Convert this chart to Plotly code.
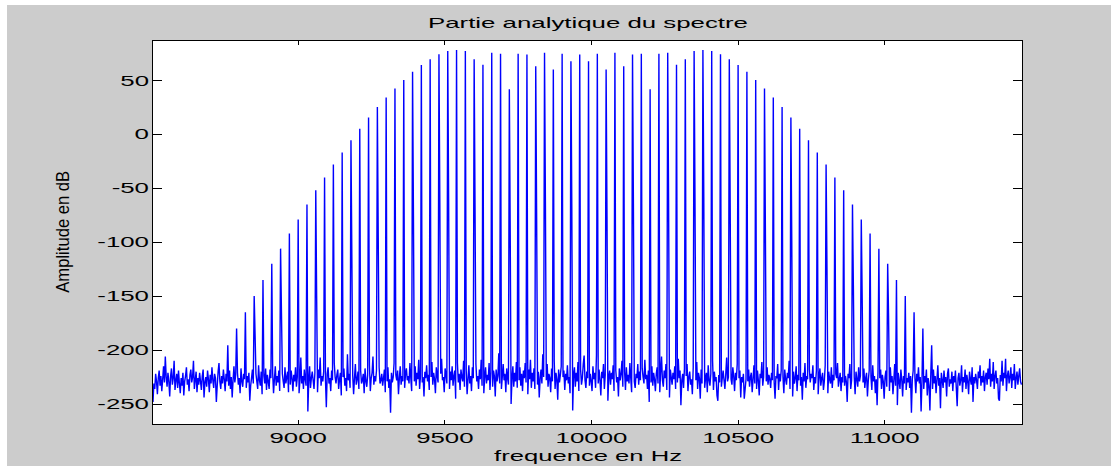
import json
import numpy as np
import plotly.graph_objects as go

# FFT grid of the analytic spectrum
start_hz = 8505.0
bin_hz = 3.0

# background noise floor, one value per FFT bin (dB)
noise_floor_db = [
    -248, -231, -236, -222, -229, -241, -226, -219, -233, -224, -238, -227, -215, -230, -206, -225, -234, -221, -229, -243, -224, -217, -232, -226, -210, -237,
    -228, -222, -235, -219, -231, -240, -226, -233, -221, -242, -229, -224, -216, -232, -227, -238, -223, -218, -230, -225, -210, -236, -228, -220, -239, -226,
    -232, -221, -229, -237, -224, -218, -244, -230, -225, -234, -219, -227, -239, -223, -231, -216, -228, -235, -222, -226, -248, -233, -220, -212, -229, -236,
    -224, -231, -218, -227, -238, -222, -229, -226, -233, -219, -236, -225, -244, -228, -215, -230, -223, -237, -221, -232, -226, -240, -217, -229, -234, -222,
    -227, -219, -235, -224, -230, -221, -247, -233, -226, -218, -231, -225, -239, -222, -229, -236, -214, -228, -233, -220, -241, -226, -224, -231, -217, -237,
    -223, -229, -236, -218, -226, -232, -221, -240, -227, -215, -233, -224, -230, -219, -238, -226, -257, -222, -229, -235, -216, -231, -225, -220, -239, -227,
    -232, -219, -226, -238, -223, -229, -216, -234, -225, -221, -240, -228, -207, -231, -224, -236, -218, -227, -233, -222, -257, -229, -215, -235, -226, -220,
    -228, -236, -221, -230, -225, -239, -218, -226, -207, -233, -224, -229, -220, -237, -227, -253, -222, -216, -231, -226, -238, -219, -228, -234, -212, -225,
    -231, -223, -218, -236, -227, -221, -242, -229, -225, -217, -233, -226, -238, -204, -228, -222, -235, -219, -230, -224, -241, -226, -213, -232, -227, -220,
    -236, -225, -219, -231, -228, -222, -240, -217, -229, -234, -223, -227, -214, -238, -226, -221, -206, -232, -224, -229, -219, -237, -225, -216, -231, -228,
    -222, -233, -226, -218, -239, -224, -229, -216, -235, -227, -258, -221, -230, -225, -212, -236, -223, -228, -219, -241, -226, -215, -232, -224, -229, -220,
    -235, -222, -217, -228, -224, -231, -212, -226, -238, -219, -223, -229, -215, -233, -221, -227, -209, -236, -224, -218, -230, -225, -243, -220, -226, -214,
    -229, -223, -237, -218, -225, -211, -232, -221, -227, -240, -216, -224, -230, -219, -234, -222, -208, -228, -225, -239, -217, -223, -231, -213, -226, -236,
    -220, -228, -215, -233, -224, -219, -245, -226, -212, -230, -222, -237, -218, -225, -229, -210, -234, -223, -219, -241, -227, -214, -231, -224, -238, -216,
    -226, -232, -220, -213, -229, -224, -236, -218, -227, -209, -233, -222, -240, -225, -216, -231, -223, -228, -212, -237, -221, -226, -234, -219, -224, -243,
    -218, -229, -224, -203, -231, -220, -236, -225, -213, -228, -222, -239, -217, -226, -232, -219, -224, -250, -227, -215, -234, -221, -229, -211, -235, -223,
    -228, -216, -233, -222, -238, -219, -226, -212, -230, -224, -241, -218, -227, -209, -235, -221, -229, -217, -236, -225, -214, -232, -220, -244, -226, -218,
    -231, -204, -225, -237, -219, -228, -213, -234, -222, -226, -239, -217, -229, -224, -210, -236, -221, -227, -246, -218, -230, -223, -215, -233, -225, -219,
    -237, -222, -228, -214, -231, -225, -240, -219, -227, -256, -223, -216, -234, -221, -229, -211, -238, -224, -218, -232, -226, -213, -205, -228, -235, -220,
    -226, -217, -233, -222, -229, -238, -215, -227, -221, -235, -205, -224, -231, -218, -228, -242, -220, -226, -213, -236, -223, -229, -216, -247, -225, -219,
    -232, -221, -227, -214, -238, -224, -219, -230, -225, -243, -217, -228, -222, -210, -234, -226, -220, -237, -216, -229, -223, -231, -212, -226, -239, -221,
    -218, -229, -235, -222, -226, -213, -232, -220, -228, -240, -217, -225, -231, -209, -227, -223, -236, -219, -248, -224, -230, -215, -233, -221, -227, -238,
    -222, -216, -231, -225, -239, -220, -206, -228, -234, -219, -226, -213, -237, -223, -229, -244, -218, -225, -232, -221, -227, -215, -236, -224, -230, -208,
    -226, -219, -251, -228, -222, -235, -217, -229, -224, -213, -238, -225, -220, -232, -227, -241, -216, -230, -223, -228, -211, -236, -221, -226, -245, -218,
    -231, -224, -218, -235, -226, -221, -239, -214, -228, -233, -222, -226, -210, -237, -220, -229, -225, -242, -247, -223, -230, -217, -234, -226, -219, -228,
    -236, -222, -207, -229, -225, -240, -219, -227, -232, -216, -224, -238, -221, -228, -213, -233, -226, -219, -244, -225, -230, -222, -245, -236, -227, -220,
    -229, -218, -234, -225, -221, -239, -227, -214, -231, -224, -236, -219, -228, -242, -222, -226, -211, -233, -225, -220, -238, -229, -216, -232, -223, -227,
    -235, -221, -228, -217, -230, -245, -224, -226, -213, -237, -222, -229, -219, -234, -225, -240, -218, -227, -232, -221, -226, -210, -236, -224, -229, -243,
    -220, -231, -226, -215, -238, -223, -228, -219, -233, -225, -246, -221, -229, -212, -235, -224, -227, -239, -218, -230, -222, -226, -214, -237, -225, -231,
    -219, -228, -241, -224, -217, -233, -226, -221, -237, -229, -214, -232, -225, -240, -220, -227, -231, -216, -235, -223, -228, -244, -222, -226, -212, -234,
    -227, -221, -238, -225, -230, -217, -233, -224, -229, -248, -222, -226, -213, -236, -228, -219, -232, -225, -241, -220, -227, -234, -216, -229, -224, -239,
    -222, -230, -217, -235, -226, -221, -243, -228, -219, -232, -225, -237, -214, -229, -224, -240, -227, -251, -220, -233, -226, -218, -236, -223, -229, -245,
    -225, -219, -234, -227, -222, -238, -216, -230, -224, -241, -228, -213, -233, -226, -251, -221, -229, -236, -218, -227, -243, -224, -231, -219, -237, -226,
    -230, -221, -235, -224, -258, -227, -219, -233, -226, -240, -222, -229, -216, -231, -225, -257, -228, -220, -236, -224, -230, -218, -242, -226, -233, -256,
    -222, -229, -236, -218, -231, -224, -240, -227, -214, -233, -226, -254, -221, -228, -235, -219, -230, -225, -243, -222, -217, -234, -227, -231, -220, -238,
    -224, -230, -219, -235, -252, -226, -221, -233, -228, -214, -239, -225, -230, -218, -236, -223, -229, -241, -220, -227, -232, -216, -248, -225, -231, -222,
    -228, -236, -220, -226, -214, -233, -224, -230, -219, -238, -225, -221, -232, -217, -227, -208, -234, -222, -229, -211, -236, -224, -219, -231, -226, -245,
    -247, -223, -229, -210, -233, -221, -226, -208, -238, -224, -219, -231, -225, -216, -235, -222, -228, -213, -236, -226, -220, -232, -224, -217, -229, -232,
]

# spectral lines: carrier and sidebands (orders -40 .. 40)
carrier_hz = 9960.0
sideband_step_hz = 30.0
sideband_order = list(range(-40, 41))
sideband_db = [
    -195.5, -180.0, -165.0, -150.0, -135.0, -120.0, -106.0, -92.0, -79.0, -65.0,
    -52.0, -40.0, -28.0, -17.0, -5.6, 5.2, 15.4, 25.3, 34.0, 42.3,
    50.3, 58.0, 64.2, 69.4, 74.1, 77.2, 78.1, 77.2, 69.4, 64.5,
    75.6, 74.7, 41.7, 74.7, 73.8, 63.0, 75.6, 59.9, 74.7, 67.6,
    73.8,
    67.6, 74.7, 59.9, 75.6, 63.0, 73.8, 74.7, 41.7, 74.7, 75.6,
    64.5, 69.4, 77.2, 78.1, 77.2, 74.1, 69.4, 64.2, 58.0, 50.3,
    42.3, 34.0, 25.3, 15.4, 5.2, -5.6, -17.0, -28.0, -40.0, -52.0,
    -65.0, -79.0, -92.0, -106.0, -120.0, -135.0, -150.0, -165.0, -180.0, -195.5,
]

# leakage into the bin right after some lines
leak_order = [-37, -34, -30, -26, -23, -19, -16, -15, -12, -8, -5, -4, -1,
              3, 6, 10, 13, 14, 17, 21, 24, 28, 31, 32, 35]
leak_db = [-185, -165, -150, -113, -96, -75, -63, -60, -67, -93, -73, -63, -68,
           -76, -64, -61, -60, -58, -66, -88, -99, -123, -140, -150, -168]

x_tick_vals = [9000, 9500, 10000, 10500, 11000]
x_tick_text = ["9000", "9500", "10000", "10500", "11000"]
y_tick_vals = [-250, -200, -150, -100, -50, 0, 50]
y_tick_text = ["-250", "-200", "-150", "-100", "-50", "0", "50"]

title_text = "Partie analytique du spectre"
x_label = "frequence en Hz"
y_label = "Amplitude en dB"

# ---- assemble the spectrum on the FFT grid
freq_hz = start_hz + bin_hz * np.arange(len(noise_floor_db))
spectrum_db = np.array(noise_floor_db, dtype=float)


def bin_of(f):
    return int(round((f - start_hz) / bin_hz))


for k, level in zip(sideband_order, sideband_db):
    spectrum_db[bin_of(carrier_hz + k * sideband_step_hz)] = level
for k, level in zip(leak_order, leak_db):
    spectrum_db[bin_of(carrier_hz + k * sideband_step_hz) + 1] = level

W, H = 1117, 471
ML, MR, MT, MB = 153, 95, 41, 47
plot_h = H - MT - MB
plot_w = W - ML - MR
font_main = "Liberation Sans, Arial, Helvetica, sans-serif"

fig = go.Figure()
fig.add_trace(go.Scatter(
    x=freq_hz, y=spectrum_db, mode="lines",
    line=dict(color="#0000ff", width=1.4, simplify=False),
    hoverinfo="skip", showlegend=False,
))

axis_common = dict(
    showgrid=False, zeroline=False, showline=True, linecolor="#000000", linewidth=1,
    mirror="ticks", ticks="inside", tickcolor="#000000", tickwidth=1,
    tickfont=dict(family=font_main, size=15, color="#000000"),
)
fig.update_xaxes(
    range=[8505, 11468], tickmode="array", tickvals=x_tick_vals, ticktext=x_tick_text,
    ticklen=4, **axis_common,
)
fig.update_yaxes(
    range=[-268.5, 86.4], tickmode="array", tickvals=y_tick_vals, ticktext=y_tick_text,
    ticklen=9, **axis_common,
)


def px_x(px):
    return (px - ML) / plot_w


def px_y(py):
    return (H - MB - py) / plot_h


# grey figure panel inside a thin white frame, white axes area on top of it
fig.add_shape(type="rect", xref="paper", yref="paper", layer="below",
              x0=px_x(7), x1=px_x(1111), y0=px_y(466), y1=px_y(5),
              fillcolor="#cccccc", line=dict(width=0))
fig.add_shape(type="rect", xref="paper", yref="paper", layer="below",
              x0=0, x1=1, y0=0, y1=1, fillcolor="#ffffff", line=dict(width=0))

fig.add_annotation(text=title_text, xref="paper", yref="paper", x=0.5,
                   y=px_y(22), xanchor="center", yanchor="middle",
                   showarrow=False, font=dict(family=font_main, size=15, color="#000000"))
fig.add_annotation(text=x_label, xref="paper", yref="paper", x=0.5,
                   y=px_y(455), xanchor="center", yanchor="middle",
                   showarrow=False, font=dict(family=font_main, size=15, color="#000000"))
fig.add_annotation(text=y_label, xref="paper", yref="paper", x=px_x(62),
                   y=0.5, xanchor="center", yanchor="middle", textangle=-90,
                   showarrow=False, font=dict(family=font_main, size=19, color="#000000"))

fig.update_layout(
    width=W, height=H,
    margin=dict(l=ML, r=MR, t=MT, b=MB, pad=0),
    paper_bgcolor="#ffffff", plot_bgcolor="#ffffff",
    showlegend=False,
)

# the horizontal labels are drawn wide, the rotated one narrow
label_lengths = {title_text: 320, x_label: 188, y_label: 122}
post_js = """
var gd = document.getElementById('{plot_id}');
function fit(el, w) { el.setAttribute('textLength', w.toFixed(1)); el.setAttribute('lengthAdjust', 'spacingAndGlyphs'); }
gd.querySelectorAll('.xtick text, .ytick text').forEach(function (t) { fit(t, t.getComputedTextLength() * 1.72); });
var lengths = LENGTHS;
gd.querySelectorAll('.annotation-text').forEach(function (t) {
  var s = t.textContent;
  if (lengths.hasOwnProperty(s)) { fit(t, lengths[s]); }
});
""".replace("LENGTHS", json.dumps(label_lengths))

fig.write_html("out.html", post_script=post_js, config={"responsive": False, "displayModeBar": False})
